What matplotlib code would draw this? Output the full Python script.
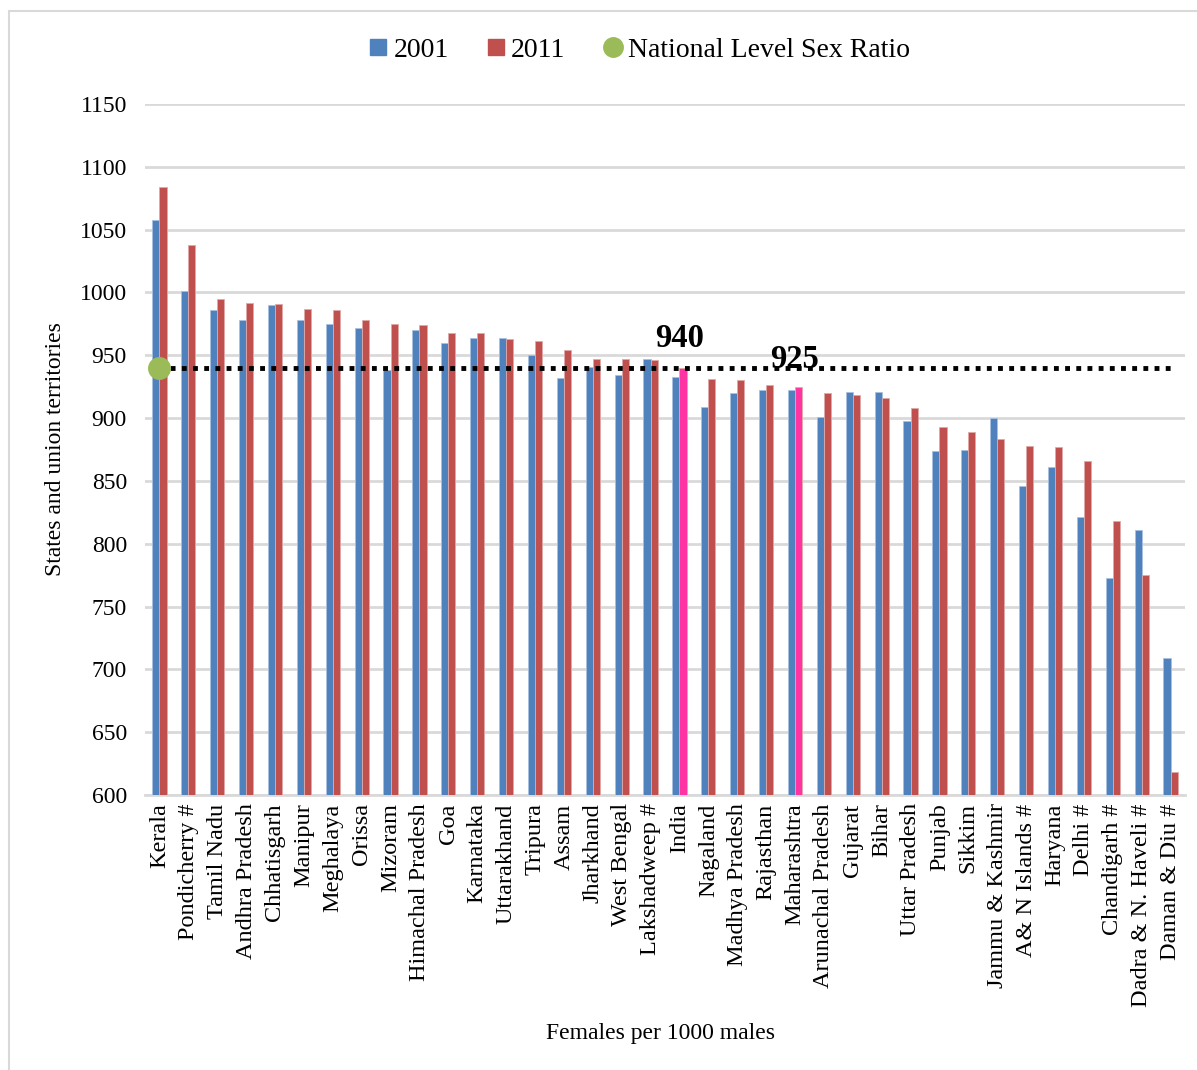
import matplotlib
matplotlib.use("Agg")
import matplotlib.pyplot as plt
from matplotlib.patches import Rectangle
from matplotlib.lines import Line2D
import numpy as np

# Sex ratio (females per 1000 males), Census 2001 vs 2011
states = ['Kerala', 'Pondicherry #', 'Tamil Nadu', 'Andhra Pradesh', 'Chhatisgarh',
          'Manipur', 'Meghalaya', 'Orissa', 'Mizoram', 'Himachal Pradesh', 'Goa',
          'Karnataka', 'Uttarakhand', 'Tripura', 'Assam', 'Jharkhand', 'West Bengal',
          'Lakshadweep #', 'India', 'Nagaland', 'Madhya Pradesh', 'Rajasthan',
          'Maharashtra', 'Arunachal Pradesh', 'Gujarat', 'Bihar', 'Uttar Pradesh',
          'Punjab', 'Sikkim', 'Jammu & Kashmir', 'A& N Islands #', 'Haryana',
          'Delhi #', 'Chandigarh #', 'Dadra & N. Haveli #', 'Daman & Diu #']
ratio_2001 = [1058, 1001, 986, 978, 990, 978, 975, 972, 938, 970, 960,
              964, 964, 950, 932, 941, 934, 947, 933, 909, 920, 922,
              922, 901, 921, 921, 898, 874, 875, 900, 846, 861,
              821, 773, 811, 709]
ratio_2011 = [1084, 1038, 995, 992, 991, 987, 986, 978, 975, 974, 968,
              968, 963, 961, 954, 947, 947, 946, 940, 931, 930, 926,
              925, 920, 918, 916, 908, 893, 889, 883, 878, 877,
              866, 818, 775, 618]
national_ratio = 940
highlighted = ['India', 'Maharashtra']

BLUE = '#4F81BD'
RED = '#C0504D'
GREEN = '#9BBB59'
PINK = '#FF33A1'
GRID = '#D9D9D9'

plt.rcParams['font.family'] = ['Liberation Serif', 'DejaVu Serif']

fig = plt.figure(figsize=(11.97, 10.70), dpi=100)
ax = fig.add_axes([145 / 1197, 1 - 795 / 1070, 1040 / 1197, 691 / 1070])

# light frame around the whole chart
fig.patches.append(Rectangle((9 / 1197, -0.01), 1.02, 1 - 11 / 1070 + 0.01,
                             transform=fig.transFigure, fill=False,
                             edgecolor=GRID, linewidth=1.5))

x = np.arange(len(states))
w = 0.245
colors_2011 = [PINK if s in highlighted else RED for s in states]
ax.bar(x - w / 2, ratio_2001, w, color=BLUE, edgecolor='#A9C1E0', linewidth=0.6, zorder=3)
ax.bar(x + w / 2, ratio_2011, w, color=colors_2011, edgecolor='#E0A9A8', linewidth=0.6, zorder=3)

# national level reference line at 940
ax.plot(x, [national_ratio] * len(x), color='black', linestyle=(0, (1, 1.3)),
        linewidth=3.5, zorder=4)
ax.plot(x[0], national_ratio, 'o', color=GREEN, markersize=15.5, zorder=5)

ax.text(states.index('India'), 951, '940', ha='center', va='bottom',
        fontsize=23.5, fontweight='bold')
ax.text(states.index('Maharashtra'), 934, '925', ha='center', va='bottom',
        fontsize=23.5, fontweight='bold', zorder=5)

ax.set_ylim(600, 1150)
ax.set_xlim(-0.5, len(states) - 0.5)
ax.set_yticks(np.arange(600, 1151, 50))
ax.yaxis.grid(True, color=GRID, linewidth=2)
ax.set_axisbelow(True)
for side in ['top', 'right', 'left']:
    ax.spines[side].set_visible(False)
ax.spines['bottom'].set_color(GRID)
ax.spines['bottom'].set_linewidth(2)
ax.tick_params(axis='both', length=0)
ax.tick_params(axis='y', pad=13, labelsize=17)
ax.tick_params(axis='x', pad=6, labelsize=17.5)
ax.set_xticks(x)
ax.set_xticklabels(states, rotation=90)

ax.set_ylabel('States and union territories', fontsize=17, labelpad=10)
fig.text(660 / 1197, 1 - 1033 / 1070, 'Females per 1000 males', ha='center',
         va='center', fontsize=17)

handles = [
    Line2D([], [], marker='s', linestyle='', color=BLUE, markersize=11),
    Line2D([], [], marker='s', linestyle='', color=RED, markersize=11),
    Line2D([], [], marker='o', linestyle='', color=GREEN, markersize=14),
]
fig.legend(handles, ['2001', '2011', 'National Level Sex Ratio'],
           loc='center', bbox_to_anchor=(637 / 1197, 1 - 50 / 1070), ncol=3,
           frameon=False, fontsize=20, handletextpad=0.05, columnspacing=1.2,
           handlelength=1.0)

fig.savefig('out.png', dpi=100)
